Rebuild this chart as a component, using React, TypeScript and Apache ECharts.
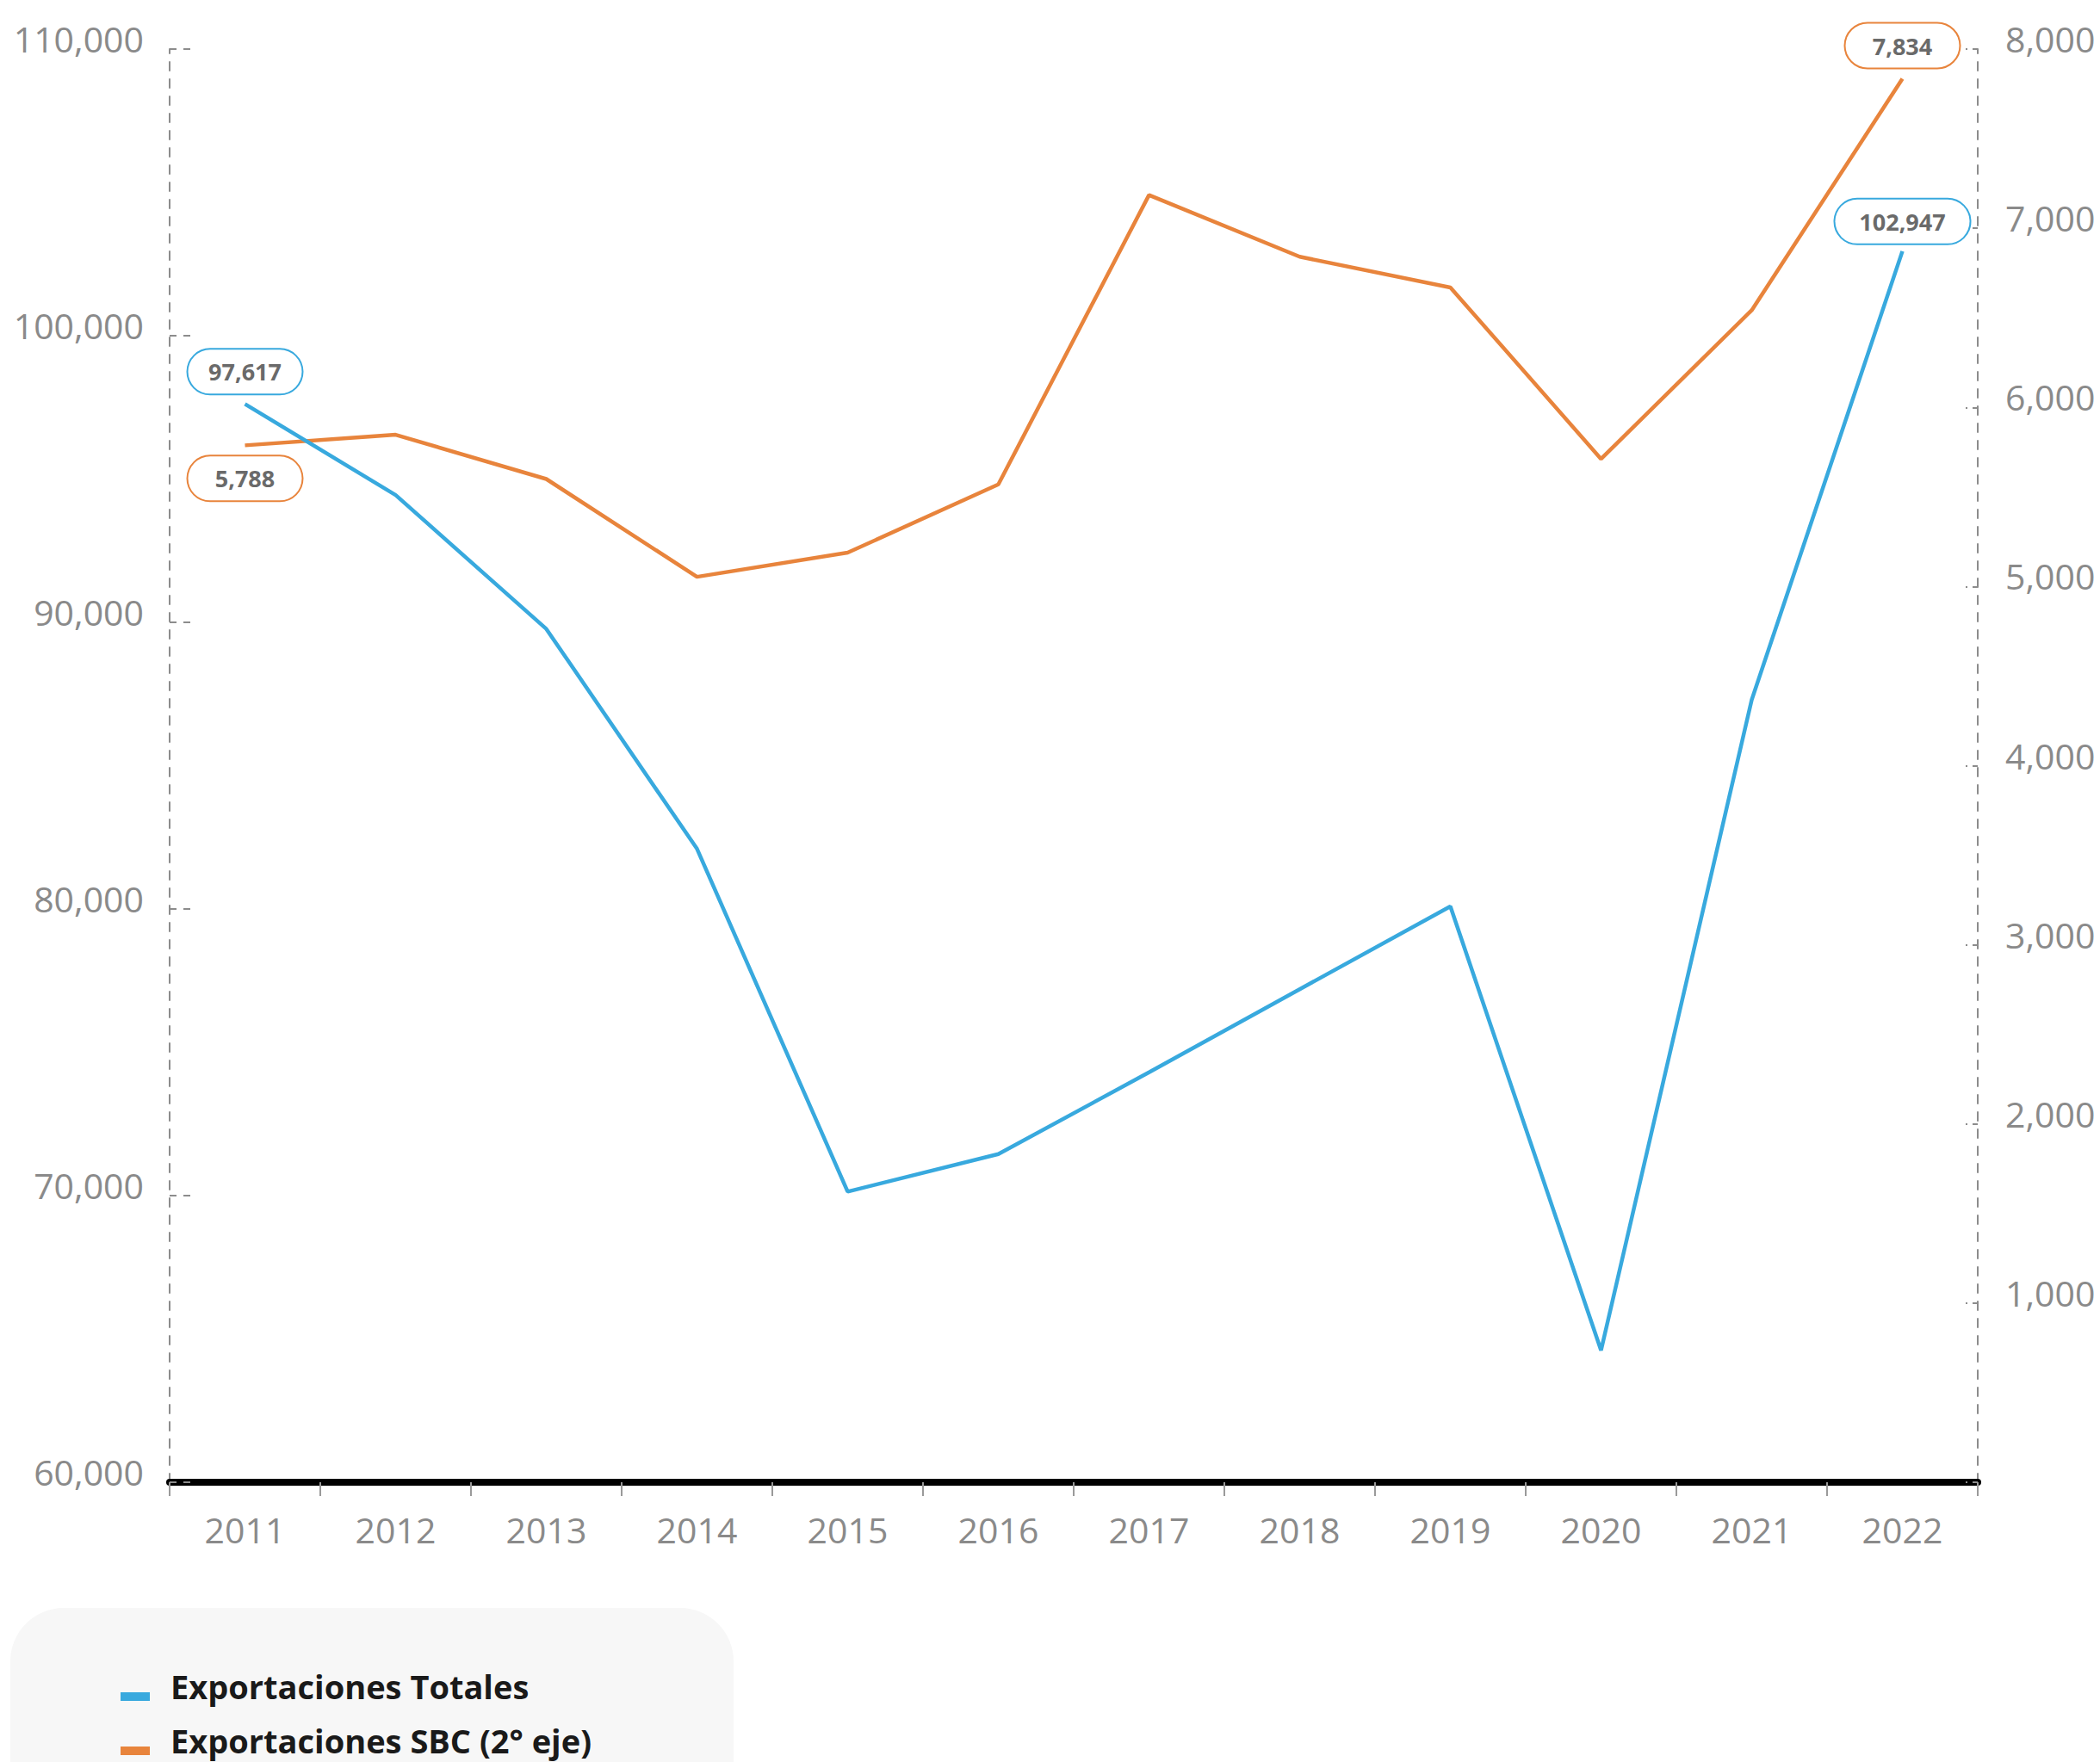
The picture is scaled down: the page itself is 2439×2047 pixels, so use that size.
import React, { useEffect, useRef } from "react";
import * as echarts from "echarts";

const years = ["2011", "2012", "2013", "2014", "2015", "2016", "2017", "2018", "2019", "2020", "2021", "2022"];
const totales = [97617, 94440, 89770, 82100, 70140, 71450, 74300, 77200, 80090, 64600, 87300, 102947];
const sbc = [5788, 5847, 5600, 5054, 5189, 5570, 7185, 6841, 6669, 5712, 6542, 7834];
const seriesNames = ["Exportaciones Totales", "Exportaciones SBC (2° eje)"];
const colors = ["#38a9de", "#e8843c"];

const FONT = "'Open Sans', 'Noto Sans', sans-serif";

function legendIcon(color: string) {
  const svg = `<svg xmlns="http://www.w3.org/2000/svg" width="34" height="44" viewBox="0 0 34 44"><rect x="0" y="29" width="34" height="10" fill="${color}"/></svg>`;
  return "image://data:image/svg+xml;charset=utf-8," + encodeURIComponent(svg);
}

function labelBox(color: string, position: string, distance: number, width: number) {
  return {
    show: true,
    position,
    distance,
    formatter: (p: any) => Number(p.value).toLocaleString("en-US"),
    fontFamily: FONT,
    fontSize: 27,
    fontWeight: "bold",
    color: "#6a6a6a",
    lineHeight: 27,
    backgroundColor: "#ffffff",
    borderColor: color,
    borderWidth: 2,
    borderRadius: 27,
    padding: [12, 0, 12, 0],
    width,
    align: "center",
  };
}

export default function App() {
  const ref = useRef<HTMLDivElement>(null);
  useEffect(() => {
    document.body.style.margin = "0";
    const chart = echarts.init(ref.current!, null, { renderer: "svg" });
    const last = years.length - 1;
    const blueData = totales.map((v, i) => {
      if (i === 0) return { value: v, label: labelBox(colors[0], "top", 12, 132) };
      if (i === last) return { value: v, label: labelBox(colors[0], "top", 9, 156) };
      return { value: v };
    });
    const orangeData = sbc.map((v, i) => {
      if (i === 0) return { value: v, label: labelBox(colors[1], "bottom", 13, 132) };
      if (i === last) return { value: v, label: labelBox(colors[1], "top", 13, 132) };
      return { value: v };
    });
    const yLabel = {
      fontFamily: FONT,
      fontSize: 41,
      color: "#8a8a8a",
      verticalAlign: "bottom",
      lineHeight: 24,
    };
    chart.setOption({
      animation: false,
      backgroundColor: "#ffffff",
      grid: { left: 197, right: 142, top: 57, bottom: 325, containLabel: false },
      graphic: [
        {
          type: "rect",
          left: 12,
          top: 1868,
          shape: { width: 840, height: 260, r: 62 },
          style: { fill: "#f7f7f7" },
          z: -10,
        },
      ],
      legend: {
        orient: "vertical",
        left: 140,
        top: 1937,
        padding: 0,
        itemWidth: 34,
        itemHeight: 44,
        itemGap: 19,
        selectedMode: false,
        data: [
          { name: seriesNames[0], icon: legendIcon(colors[0]) },
          { name: seriesNames[1], icon: legendIcon(colors[1]) },
        ],
        textStyle: {
          fontFamily: FONT,
          fontSize: 38,
          fontWeight: "bold",
          color: "#1a1a1a",
          padding: [0, 0, 0, 19],
        },
      },
      xAxis: {
        type: "category",
        data: years,
        boundaryGap: true,
        axisLine: { show: true, lineStyle: { color: "#000000", width: 8 } },
        axisTick: { show: true, length: 16, lineStyle: { color: "#9a9a9a", width: 2 } },
        axisLabel: { fontFamily: FONT, fontSize: 41, color: "#8a8a8a", margin: 34 },
        splitLine: { show: false },
      },
      yAxis: [
        {
          type: "value",
          position: "left",
          min: 60000,
          max: 110000,
          interval: 10000,
          axisLine: { show: true, lineStyle: { color: "#8c8c8c", width: 2, type: [10, 10] } },
          axisTick: { show: true, inside: true, length: 28, lineStyle: { color: "#8c8c8c", width: 2, type: [8, 8] } },
          axisLabel: { ...yLabel, margin: 30, formatter: (v: number) => v.toLocaleString("en-US") },
          splitLine: { show: false },
        },
        {
          type: "value",
          position: "right",
          min: 0,
          max: 8000,
          interval: 1000,
          axisLine: { show: true, lineStyle: { color: "#8c8c8c", width: 2, type: [10, 10] } },
          axisTick: { show: true, inside: true, length: 14, lineStyle: { color: "#8c8c8c", width: 2, type: [6, 6] } },
          axisLabel: {
            ...yLabel,
            margin: 32,
            formatter: (v: number) => (v === 0 ? "" : v.toLocaleString("en-US")),
          },
          splitLine: { show: false },
        },
      ],
      series: [
        {
          name: seriesNames[0],
          type: "line",
          yAxisIndex: 0,
          data: blueData,
          symbol: "circle",
          symbolSize: 0,
          showSymbol: true,
          itemStyle: { color: colors[0] },
          lineStyle: { color: colors[0], width: 4.5 },
          label: { show: false },
          z: 3,
        },
        {
          name: seriesNames[1],
          type: "line",
          yAxisIndex: 1,
          data: orangeData,
          symbol: "circle",
          symbolSize: 0,
          showSymbol: true,
          itemStyle: { color: colors[1] },
          lineStyle: { color: colors[1], width: 4.5 },
          label: { show: false },
          z: 2,
        },
      ],
    });
    return () => chart.dispose();
  }, []);
  return <div ref={ref} style={{ position: "absolute", left: 0, top: 0, width: 2439, height: 2047 }} />;
}
